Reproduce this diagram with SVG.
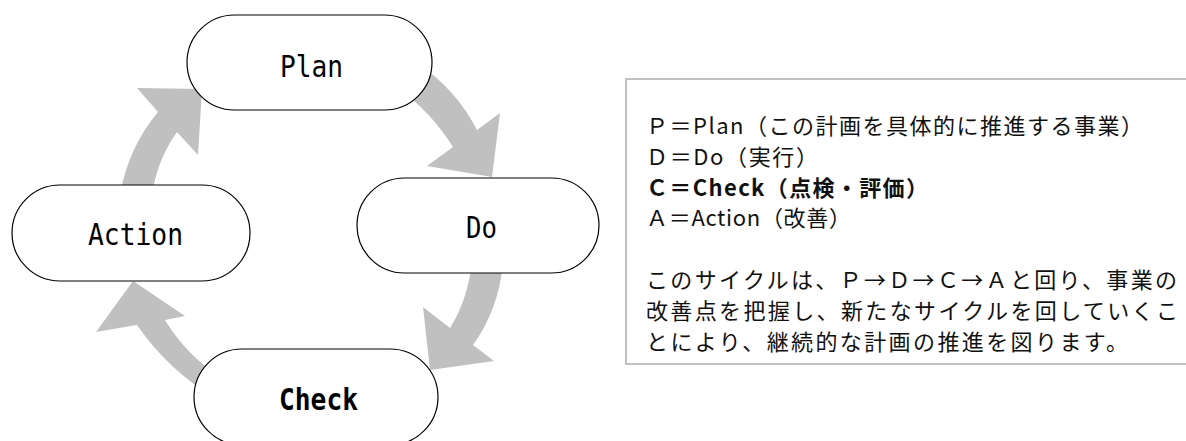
<svg xmlns="http://www.w3.org/2000/svg" width="1186" height="441" viewBox="0 0 1186 441">
  <style>
    .arrow { fill: #c0c0c0; stroke: none; }
    .node { fill: #ffffff; stroke: #000000; stroke-width: 1.2; }
    .nlabel { font-family: "DejaVu Sans Mono", "Liberation Mono", monospace; font-size: 31px; fill: #000; text-anchor: middle; }
    .bold { font-weight: bold; }
    .box { fill: #ffffff; stroke: #c0c0c0; stroke-width: 2; }
    .btext { font-family: "Noto Sans CJK JP", "Noto Sans", sans-serif; font-size: 22px; fill: #111; }
  </style>
  <rect width="1186" height="441" fill="#ffffff"/>

  <g id="connectors">
    <path class="arrow" d="M 418,64 Q 456,89 477,130 L 500,113 L 492,177 L 427,166 L 453,147 Q 431,112 398,88 Z"/>
    <path class="arrow" d="M 503,262 Q 499,309 473,345 L 494,361 L 430,370 L 423,307 L 450,328 Q 468,299 472,262 Z"/>
    <path class="arrow" d="M 215,398 Q 168,370 137,325 L 96,332 L 133,281 L 185,316 L 165,320 Q 187,356 222,378 Z"/>
    <path class="arrow" d="M 120,195 Q 128,148 158,112 L 137,88 L 202,89 L 198,155 L 177,132 Q 157,160 152,195 Z"/>
  </g>

  <g id="node-plan">
    <rect class="node" x="187" y="15" width="245" height="95" rx="47.5" ry="47.5"/>
    <text class="nlabel" x="311.5" y="77" textLength="63" lengthAdjust="spacingAndGlyphs">Plan</text>
  </g>
  <g id="node-do">
    <rect class="node" x="357" y="178" width="242" height="95" rx="47.5" ry="47.5"/>
    <text class="nlabel" x="481.5" y="238" textLength="31" lengthAdjust="spacingAndGlyphs">Do</text>
  </g>
  <g id="node-check">
    <rect class="node" x="194" y="349" width="244" height="96" rx="48" ry="48"/>
    <text class="nlabel bold" x="318.5" y="410" textLength="79" lengthAdjust="spacingAndGlyphs">Check</text>
  </g>
  <g id="node-action">
    <rect class="node" x="12" y="185" width="238" height="96" rx="48" ry="48"/>
    <text class="nlabel" x="135.5" y="245" textLength="95" lengthAdjust="spacingAndGlyphs">Action</text>
  </g>

  <g id="legend">
    <rect class="box" x="626" y="79" width="600" height="285"/>
    <text class="btext" x="646" y="134" textLength="497" lengthAdjust="spacing">Ｐ＝Plan（この計画を具体的に推進する事業）</text>
    <text class="btext" x="646" y="165" textLength="172" lengthAdjust="spacing">Ｄ＝Do（実行）</text>
    <text class="btext" x="646" y="196" font-weight="bold" textLength="282" lengthAdjust="spacing">Ｃ＝Check（点検・評価）</text>
    <text class="btext" x="646" y="226" textLength="205" lengthAdjust="spacing">Ａ＝Action（改善）</text>
    <text class="btext" x="646" y="288" textLength="531" lengthAdjust="spacing">このサイクルは、Ｐ→Ｄ→Ｃ→Ａと回り、事業の</text>
    <text class="btext" x="646" y="319" textLength="532" lengthAdjust="spacing">改善点を把握し、新たなサイクルを回していくこ</text>
    <text class="btext" x="646" y="350" textLength="482" lengthAdjust="spacing">とにより、継続的な計画の推進を図ります。</text>
  </g>
</svg>
